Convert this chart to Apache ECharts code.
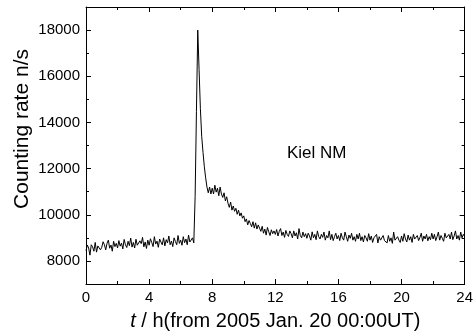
<!DOCTYPE html>
<html><head><meta charset="utf-8">
<script src="https://cdn.jsdelivr.net/npm/echarts@6/dist/echarts.min.js"></script>
<style>html,body{margin:0;padding:0;background:#fff}#c{width:476px;height:336px}</style>
</head><body><div id="c"></div>
<script>
// Kiel neutron monitor counting rate, 5-minute samples from 00:00 UT
const sampleStepHours = 5 / 60;
const rates = [
 8450, 8690, 8560, 8250, 8700, 8610, 8420, 8800, 8380, 8650, 8720, 8480,
 8590, 8830, 8700, 8480, 8760, 8900, 8550, 8690, 8420, 8850, 8620, 8760,
 8560, 8880, 8640, 8770, 8520, 8930, 8700, 8580, 8850, 8660, 8990, 8600,
 8800, 8560, 8940, 8680, 8600, 8870, 8750, 9020, 8610, 8820, 8540, 8900,
 8680, 8960, 8800, 8620, 9050, 8730, 8860, 8590, 8950, 8820, 8700, 9000,
 8650, 8920, 8780, 9080, 8700, 8860, 8620, 9000, 8840, 8700, 9100, 8760,
 8900, 8680, 9050, 8790, 8950, 8700, 9120, 8820, 8740, 9000, 8780, 10800,
 14480, 18000, 16300, 14600, 13400, 12700, 12080, 11600, 11200, 10950, 11200, 10900,
 11150, 10900, 11280, 10980, 11150, 10820, 11200, 10900, 10750, 10950, 10600, 10780,
 10500, 10320, 10550, 10200, 10380, 10150, 10280, 10020, 10200, 9950, 10080, 9850,
 9950, 9700, 9820, 9560, 9750, 9620, 9480, 9700, 9420, 9650, 9380, 9560,
 9420, 9280, 9500, 9200, 9380, 9120, 9450, 9260, 9100, 9350, 9180, 9300,
 9150, 9360, 9080, 9280, 9400, 9100, 9250, 9020, 9320, 9150, 9060, 9300,
 9180, 9000, 9300, 9080, 9220, 8950, 9400, 9100, 9000, 9250, 9050, 9180,
 8980, 9200, 9080, 8900, 9260, 9000, 9150, 8920, 9300, 9050, 8950, 9150,
 9020, 9250, 8900, 9100, 9000, 9300, 8920, 9150, 8880, 9050, 9200, 8950,
 9100, 8880, 9200, 9000, 8900, 9250, 9050, 8850, 9120, 8980, 9200, 8900,
 9050, 8850, 9150, 8950, 9200, 8880, 9050, 8820, 9100, 9000, 8850, 9180,
 8900, 9080, 8800, 9000, 8920, 9150, 8780, 9050, 8900, 8820, 9100, 8880,
 8950, 8780, 9100, 8850, 9000, 8760, 9250, 8900, 8820, 9050, 8900, 8800,
 9080, 8850, 9180, 8950, 8820, 9120, 8900, 9050, 8800, 9150, 8950, 8870,
 9100, 8880, 9020, 9200, 8850, 9080, 8950, 9150, 8870, 9050, 8920, 9200,
 8950, 9150, 8880, 9050, 9250, 8900, 9100, 8980, 8850, 9200, 9000, 8920,
 9150, 8950, 9250, 8920, 9080, 9300, 8950, 9100, 8900, 9250, 9000, 9150,
 9050
];
const xRange = [0, 24];
const yRange = [7000, 19000];
const xMajorTicks = [0, 4, 8, 12, 16, 20, 24];
const xMinorTicks = [2, 6, 10, 14, 18, 22];
const yMajorTicks = [8000, 10000, 12000, 14000, 16000, 18000];
const yMinorTicks = [7000, 9000, 11000, 13000, 15000, 17000, 19000];
const xTitle = '{i|t} / h(from 2005 Jan. 20 00:00UT)';
const yTitle = 'Counting rate n/s';
const stationLabel = 'Kiel NM';

const points = rates.map((v, i) => [i * sampleStepHours, v]);
const FONT = 'Liberation Sans';
const lineStyle = { color: '#000', width: 1 };

function makeAxis(kind, position, ticks, len, showLine, showLabels, extra) {
  const range = kind === 'x' ? xRange : yRange;
  return Object.assign({
    type: 'value', position: position, min: range[0], max: range[1],
    axisLine: { show: showLine, onZero: false, lineStyle: lineStyle },
    axisTick: { show: true, inside: true, length: len, customValues: ticks, lineStyle: lineStyle },
    axisLabel: showLabels
      ? { show: true, customValues: ticks, margin: 6, color: '#000', fontSize: 15, fontFamily: FONT,
          formatter: v => String(v) }
      : { show: false },
    minorTick: { show: false },
    splitLine: { show: false }
  }, extra || {});
}

const chart = echarts.init(document.getElementById('c'), null, { renderer: 'canvas' });
chart.setOption({
  animation: false,
  backgroundColor: '#fff',
  grid: { left: 86, right: 9, top: 7, bottom: 47, containLabel: false },
  xAxis: [
    makeAxis('x', 'bottom', xMajorTicks, 5, true, true, {
      name: xTitle, nameLocation: 'middle', nameGap: 27,
      nameTextStyle: { color: '#000', fontSize: 20, fontFamily: FONT,
        rich: { i: { fontStyle: 'italic', fontSize: 20, fontFamily: FONT, color: '#000' } } }
    }),
    makeAxis('x', 'top', xMajorTicks, 5, true, false),
    makeAxis('x', 'bottom', xMinorTicks, 3, false, false),
    makeAxis('x', 'top', xMinorTicks, 3, false, false)
  ],
  yAxis: [
    makeAxis('y', 'left', yMajorTicks, 5, true, true),
    makeAxis('y', 'right', yMajorTicks, 5, true, false),
    makeAxis('y', 'left', yMinorTicks, 3, false, false),
    makeAxis('y', 'right', yMinorTicks, 3, false, false)
  ],
  graphic: [
    { type: 'text', left: 287, top: 145, style: { text: stationLabel, fill: '#000', fontSize: 17, fontFamily: FONT } },
    { type: 'text', x: 22, y: 129, rotation: Math.PI / 2,
      style: { text: yTitle, fill: '#000', fontSize: 21, fontFamily: FONT, align: 'center', verticalAlign: 'middle' } }
  ],
  series: [{
    type: 'line', data: points, xAxisIndex: 0, yAxisIndex: 0,
    showSymbol: false, symbol: 'none', clip: true,
    lineStyle: { color: '#000', width: 1 }
  }]
});
</script></body></html>
